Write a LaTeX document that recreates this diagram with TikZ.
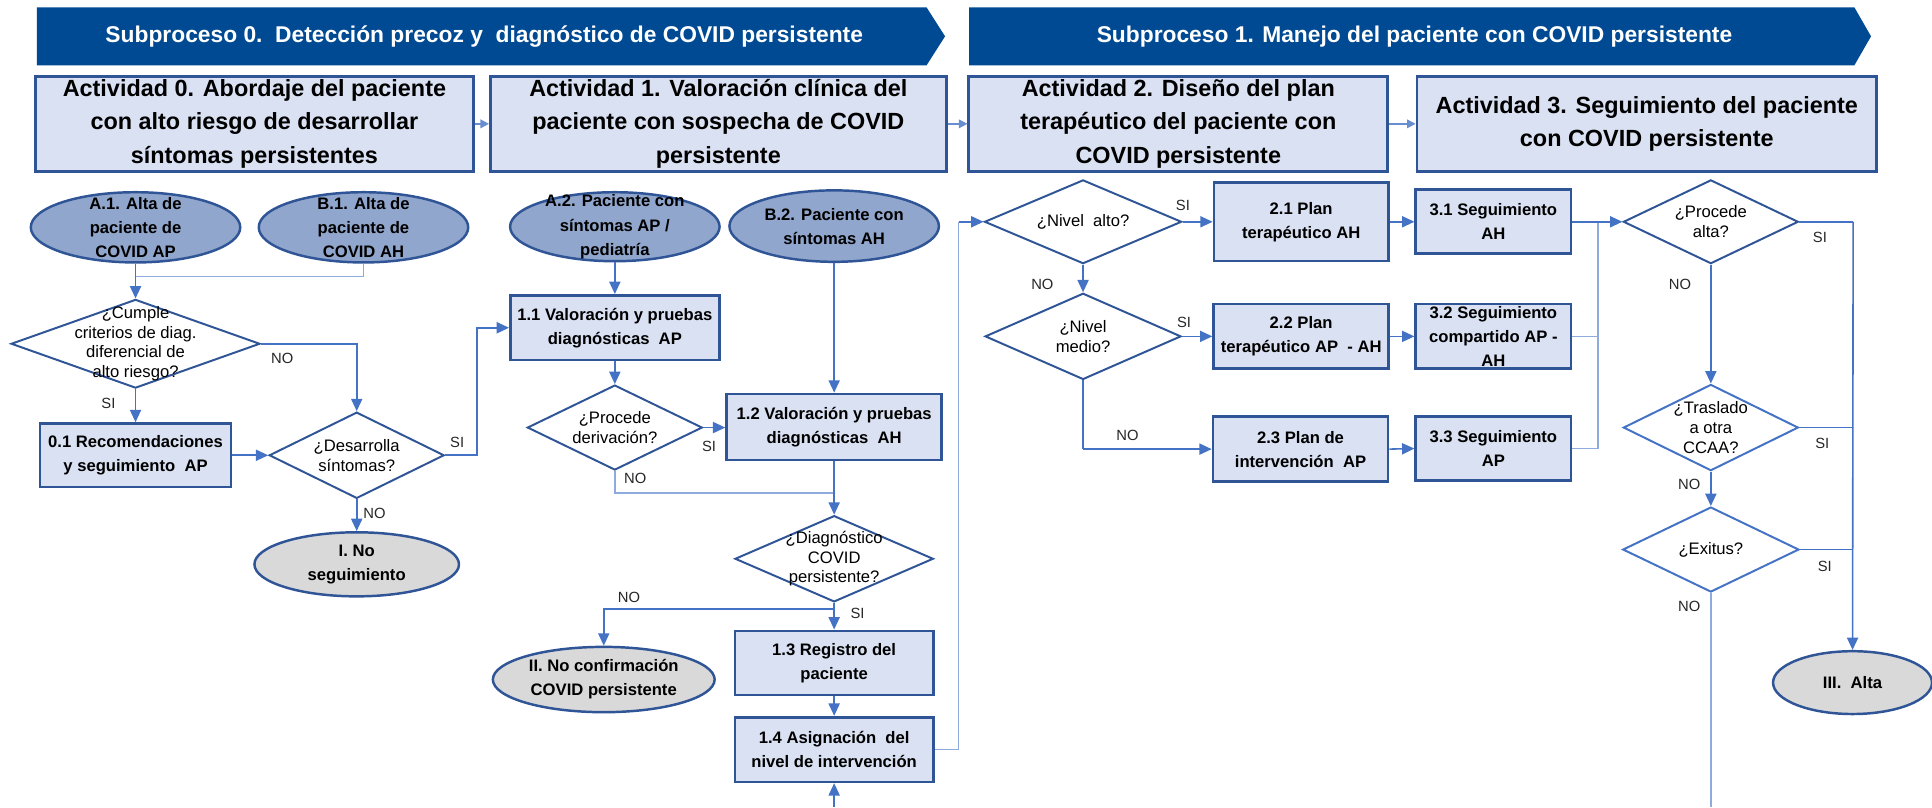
\documentclass[tikz,border=0pt]{standalone}
\usepackage{fontspec}
\setmainfont{Liberation Sans}
\usetikzlibrary{shapes.geometric,arrows.meta}
\definecolor{bannerblue}{RGB}{0,74,147}
\definecolor{actfill}{RGB}{217,225,242}
\definecolor{boxborder}{RGB}{47,85,151}
\definecolor{ovalfill}{RGB}{145,166,204}
\definecolor{grayfill}{RGB}{217,217,217}
\definecolor{linecol}{RGB}{68,114,196}
\definecolor{lightline}{RGB}{143,170,220}
\begin{document}
\begin{tikzpicture}[x=1pt,y=-1pt,
  banner/.style={fill=bannerblue,draw=none},
  bantxt/.style={text=white,inner sep=0pt,font=\fontsize{18.5}{22}\selectfont\bfseries},
  actbox/.style={draw=boxborder,line width=2.2pt,fill=actfill,minimum height=77pt,inner sep=0pt,align=center,font=\fontsize{19}{27}\selectfont\bfseries},
  pbox/.style={draw=boxborder,line width=2.2pt,fill=actfill,inner sep=0pt,align=center,font=\fontsize{13.5}{19.5}\selectfont\bfseries},
  oval/.style={ellipse,draw=boxborder,line width=2pt,fill=ovalfill,inner sep=0pt},
  goval/.style={oval,fill=grayfill},
  otxt/.style={align=center,inner sep=0pt,font=\fontsize{13.5}{19.5}\selectfont\bfseries},
  dmd/.style={diamond,draw=boxborder,line width=1.6pt,fill=white,inner sep=0pt},
  dmdl/.style={dmd,draw=linecol},
  dtxt/.style={align=center,inner sep=0pt,font=\fontsize{13.5}{16}\selectfont},
  lbl/.style={inner sep=0pt,text=black!85,font=\fontsize{12}{14}\selectfont},
  arr/.style={draw=linecol,line width=1.3pt,-{Triangle[length=10pt,width=9pt]}},
  ln/.style={draw=linecol,line width=1.3pt},
  lln/.style={draw=lightline,line width=1.3pt},
  sarr/.style={draw=linecol!80,line width=1.2pt,-{Triangle[length=7pt,width=7pt]}}
]
\useasboundingbox (0,0) rectangle (1568,655);

% banners
\fill[banner] (30,6) -- (752,6) -- (767,29.5) -- (752,53) -- (30,53) -- cycle;
\node[bantxt] (ban0) at (393,29.5) {Subproceso 0.\ \ Detección precoz y\ \ diagnóstico de COVID persistente};
\fill[banner] (786.5,6) -- (1505,6) -- (1518.5,29.5) -- (1505,53) -- (786.5,53) -- cycle;
\node[bantxt] (ban1) at (1148,29.5) {Subproceso 1. Manejo del paciente con COVID persistente};

% activity boxes
\node[actbox,minimum width=355pt] (act0) at (206.5,100.5) {Actividad 0. Abordaje del paciente\\con alto riesgo de desarrollar\\síntomas persistentes};
\node[actbox,minimum width=370pt] (act1) at (583,100.5) {Actividad 1. Valoración clínica del\\paciente con sospecha de COVID\\persistente};
\node[actbox,minimum width=340pt] (act2) at (956.3,100.5) {Actividad 2. Diseño del plan\\terapéutico del paciente con\\COVID persistente};
\node[actbox,minimum width=373pt] (act3) at (1336.5,100.5) {Actividad 3. Seguimiento del paciente\\con COVID persistente};
\draw[sarr] (act0.east) -- (act1.west);
\draw[sarr] (act1.east) -- (act2.west);
\draw[sarr] (act2.east) -- (act3.west);

% ---------- Subproceso 0 / Actividad 0
\node[oval,minimum width=170pt,minimum height=57pt] (A1) at (110,184.5) {};
\node[otxt] (A1t) at (A1) {A.1. Alta de\\paciente de\\COVID AP};
\node[oval,minimum width=170pt,minimum height=57pt] (B1) at (295,184.5) {};
\node[otxt] (B1t) at (B1) {B.1. Alta de\\paciente de\\COVID AH};
\node[dmd,minimum width=202pt,minimum height=72pt] (dcum) at (110,279) {};
\node[dtxt] (dcumt) at (dcum) {¿Cumple\\criterios de diag.\\diferencial de\\alto riesgo?};
\node[pbox,minimum width=155pt,minimum height=51.5pt] (b01) at (110,369.5) {0.1 Recomendaciones\\y seguimiento\ \ AP};
\node[dmd,minimum width=142pt,minimum height=70pt] (ddes) at (289.5,369.5) {};
\node[dtxt] (ddest) at (ddes) {¿Desarrolla\\síntomas?};
\node[goval,minimum width=166pt,minimum height=52pt] (E1) at (289.5,458) {};
\node[otxt] (E1t) at (E1) {I. No\\seguimiento};

\coordinate (j1) at (110,224.5);
\coordinate (k1) at (387,266);
\draw[arr] (A1.south) -- (dcum.north);
\draw[lln] (B1.south) |- (j1);
\draw[arr] (dcum.east) -| (ddes.north);
\draw[arr] (dcum.south) -- (b01.north);
\draw[arr] (b01.east) -- (ddes.west);
\draw[arr] (ddes.south) -- (E1.north);
\node[lbl] (l1) at (229,291) {NO};
\node[lbl] (l2) at (88,327) {SI};
\node[lbl] (l3) at (371,359) {SI};
\node[lbl] (l4) at (304,416.5) {NO};

% ---------- Actividad 1
\node[oval,minimum width=170pt,minimum height=56pt] (A2) at (499,184) {};
\node[otxt] (A2t) at (A2) {A.2. Paciente con\\síntomas AP /\\pediatría};
\node[oval,minimum width=170pt,minimum height=58pt] (B2) at (677,183.5) {};
\node[otxt] (B2t) at (B2) {B.2. Paciente con\\síntomas AH};
\node[pbox,minimum width=169.5pt,minimum height=52.5pt] (b11) at (499,266) {1.1 Valoración y pruebas\\diagnósticas\ \ AP};
\node[dmd,minimum width=142pt,minimum height=69pt] (dpro) at (499,347) {};
\node[dtxt] (dprot) at (dpro) {¿Procede\\derivación?};
\node[pbox,minimum width=174.5pt,minimum height=53.5pt] (b12) at (677,346.5) {1.2 Valoración y pruebas\\diagnósticas\ \ AH};
\node[dmd,minimum width=161pt,minimum height=70pt] (ddia) at (677,453.5) {};
\node[dtxt] (ddiat) at (ddia) {¿Diagnóstico\\COVID\\persistente?};
\node[pbox,minimum width=161pt,minimum height=52pt] (b13) at (677,538) {1.3 Registro del\\paciente};
\node[pbox,minimum width=161pt,minimum height=52.5pt] (b14) at (677,608.3) {1.4 Asignación\ \ del\\nivel de intervención};
\node[goval,minimum width=180pt,minimum height=53pt] (E2) at (490,551.5) {};
\node[otxt] (E2t) at (E2) {II. No confirmación\\COVID persistente};

\coordinate (j2) at (677,400);
\coordinate (j3) at (677,494.5);
\coordinate (bot1) at (677,655);
\coordinate (k2) at (778,180);
\draw[arr] (ddes.east) -| (k1) -- (b11.west);
\draw[arr] (A2.south) -- (b11.north);
\draw[arr] (b11.south) -- (dpro.north);
\draw[arr] (dpro.east) -- (dpro.east -| b12.west);
\draw[arr] (B2.south) -- (b12.north);
\draw[lln] (dpro.south) |- (j2);
\draw[arr] (b12.south) -- (ddia.north);
\draw[arr] (ddia.south) -- (b13.north);
\draw[arr] (j3) -| (E2.north);
\draw[arr] (b13.south) -- (b14.north);
\draw[arr] (bot1) -- (b14.south);
\draw[lln] (b14.east) -| (k2);
\node[lbl] (l5) at (575.5,362) {SI};
\node[lbl] (l6) at (515.5,388.5) {NO};
\node[lbl] (l7) at (510.5,484.5) {NO};
\node[lbl] (l8) at (696,497.5) {SI};

% ---------- Actividad 2
\node[dmd,minimum width=160pt,minimum height=68pt] (dalt) at (879,180) {};
\node[dtxt] (daltt) at (dalt) {¿Nivel\ \ alto?};
\node[dmd,minimum width=159pt,minimum height=70pt] (dmed) at (879,273) {};
\node[dtxt] (dmedt) at (dmed) {¿Nivel\\medio?};
\node[pbox,minimum width=141.5pt,minimum height=63.5pt] (b21) at (1056,180) {2.1 Plan\\terapéutico AH};
\node[pbox,minimum width=142pt,minimum height=52.5pt] (b22) at (1056,273) {2.2 Plan\\terapéutico AP\ \ - AH};
\node[pbox,minimum width=142pt,minimum height=52.5pt] (b23) at (1055.5,364.5) {2.3 Plan de\\intervención\ \ AP};
\coordinate (k3) at (879,364.5);
\draw[arr] (k2) -- (dalt.west);
\draw[arr] (dalt.east) -- (b21.west);
\draw[arr] (dalt.south) -- (dmed.north);
\draw[arr] (dmed.east) -- (b22.west);
\draw[ln] (dmed.south) -- (k3);
\draw[arr] (k3) -- (b23.west);
\node[lbl] (l9) at (960,167) {SI};
\node[lbl] (l10) at (846,230.5) {NO};
\node[lbl] (l11) at (961,262) {SI};
\node[lbl] (l12) at (915,353) {NO};

% ---------- Actividad 3
\node[pbox,minimum width=126pt,minimum height=52pt] (b31) at (1212,180) {3.1 Seguimiento\\AH};
\node[pbox,minimum width=126pt,minimum height=52.5pt] (b32) at (1212,273) {3.2 Seguimiento\\compartido AP -\\AH};
\node[pbox,minimum width=126pt,minimum height=52pt] (b33) at (1212,364) {3.3 Seguimiento\\AP};
\draw[arr] (b21.east) -- (b31.west);
\draw[arr] (b22.east) -- (b32.west);
\draw[arr] (b23.east) -- (b33.west);

\node[dmd,minimum width=142pt,minimum height=68pt] (dpal) at (1388.5,180) {};
\node[dtxt] (dpalt) at (dpal) {¿Procede\\alta?};
\node[dmdl,minimum width=142pt,minimum height=70pt] (dtra) at (1388.5,347) {};
\node[dtxt] (dtrat) at (dtra) {¿Traslado\\a otra\\CCAA?};
\node[dmdl,minimum width=143pt,minimum height=69pt] (dexi) at (1388.5,446) {};
\node[dtxt] (dexit) at (dexi) {¿Exitus?};
\node[goval,minimum width=129pt,minimum height=51pt] (E3) at (1503.5,554) {};
\node[otxt] (E3t) at (E3) {III.\ \ Alta};

\coordinate (m1) at (1297,180);
\coordinate (m3) at (1297,364);
\coordinate (r1) at (1504,180);
\coordinate (bot2) at (1388.5,655);
\draw[lln] (b32.east) -- (b32.east -| m1);
\draw[lln] (b33.east) -- (m3) -- (m1);
\draw[ln] (b31.east) -- (m1);
\draw[arr] (m1) -- (dpal.west);
\draw[ln] (dpal.east) -- (r1);
\draw[arr] (r1) -- (E3.north);
\draw[arr] (dpal.south) -- (dtra.north);
\draw[ln] (dtra.east) -- (dtra.east -| r1);
\draw[arr] (dtra.south) -- (dexi.north);
\draw[ln] (dexi.east) -- (dexi.east -| r1);
\draw[lln] (dexi.south) -- (bot2);
\node[lbl] (l13) at (1477,193) {SI};
\node[lbl] (l14) at (1363.5,230.5) {NO};
\node[lbl] (l15) at (1479,359.5) {SI};
\node[lbl] (l16) at (1371,393) {NO};
\node[lbl] (l17) at (1481,460) {SI};
\node[lbl] (l18) at (1371,492.5) {NO};
\end{tikzpicture}
\end{document}
